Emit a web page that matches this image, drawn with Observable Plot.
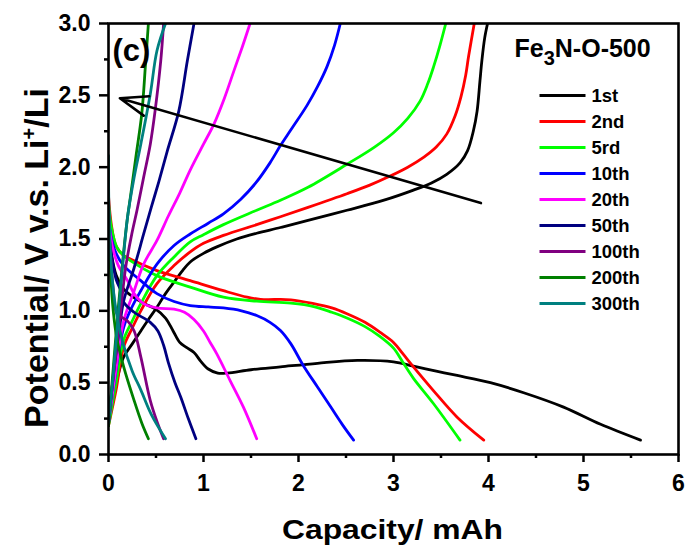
<!DOCTYPE html>
<html><head><meta charset="utf-8">
<script src="https://cdn.jsdelivr.net/npm/d3@7"></script>
<script src="https://cdn.jsdelivr.net/npm/@observablehq/plot@0.6"></script>
<style>body{margin:0;background:#fff}</style>
</head><body><div id="chart"></div>
<script>
const cycles = ["1st","2nd","5rd","10th","20th","50th","100th","200th","300th"];
const colors = ["#000000","#ff0000","#00ff00","#0000ff","#ff00ff","#000080","#800080","#008000","#008080"];

const dis1st = [[0,1.62],[0.03,1.4],[0.08,1.25],[0.15,1.16],[0.25,1.1],[0.38,1.05],[0.5,1.01],[0.6,0.95],[0.68,0.86],[0.75,0.78],[0.82,0.745],[0.9,0.71],[0.97,0.65],[1.05,0.595],[1.15,0.567],[1.25,0.567],[1.5,0.59],[1.81,0.61],[2.2,0.635],[2.62,0.655],[3.0,0.645],[3.21,0.615],[3.45,0.58],[3.67,0.55],[4.02,0.50],[4.37,0.43],[4.79,0.33],[5.18,0.21],[5.6,0.10]];
const chg1st = [[0,0.28],[0.05,0.42],[0.1,0.55],[0.16,0.68],[0.25,0.77],[0.34,0.86],[0.42,0.94],[0.51,1.025],[0.6,1.12],[0.69,1.2],[0.78,1.28],[0.86,1.34],[1.0,1.4],[1.14,1.445],[1.35,1.5],[1.56,1.54],[1.81,1.58],[2.1,1.63],[2.51,1.70],[2.9,1.77],[3.21,1.84],[3.4,1.89],[3.56,1.95],[3.7,2.03],[3.78,2.115],[3.84,2.25],[3.88,2.39],[3.91,2.6],[3.93,2.74],[3.96,2.9],[3.99,3.0]];
const dis2nd = [[0,1.8],[0.03,1.6],[0.08,1.45],[0.15,1.39],[0.23,1.36],[0.51,1.28],[0.86,1.21],[1.21,1.14],[1.46,1.095],[1.6,1.08],[1.92,1.077],[2.16,1.05],[2.35,1.02],[2.51,0.98],[2.7,0.92],[2.86,0.85],[3.0,0.78],[3.1,0.7],[3.21,0.61],[3.42,0.445],[3.67,0.26],[3.95,0.10]];
const chg2nd = [[0,0.2],[0.08,0.45],[0.16,0.75],[0.25,0.88],[0.34,1.0],[0.51,1.19],[0.69,1.315],[0.86,1.41],[1.0,1.47],[1.21,1.525],[1.56,1.6],[1.81,1.655],[2.1,1.72],[2.51,1.815],[2.75,1.875],[2.97,1.94],[3.15,2.0],[3.32,2.07],[3.45,2.14],[3.56,2.23],[3.65,2.36],[3.71,2.49],[3.76,2.64],[3.79,2.77],[3.85,3.0]];
const dis5rd = [[0,1.75],[0.03,1.58],[0.09,1.44],[0.16,1.385],[0.23,1.35],[0.51,1.245],[0.86,1.165],[1.21,1.095],[1.56,1.067],[1.92,1.053],[2.16,1.03],[2.35,0.99],[2.51,0.95],[2.7,0.89],[2.86,0.82],[3.0,0.74],[3.1,0.64],[3.21,0.53],[3.42,0.355],[3.7,0.10]];
const chg5rd = [[0,0.2],[0.08,0.5],[0.16,0.80],[0.25,0.93],[0.34,1.05],[0.51,1.245],[0.69,1.375],[0.86,1.48],[1.0,1.53],[1.21,1.6],[1.56,1.7],[1.81,1.77],[2.1,1.86],[2.51,2.02],[2.8,2.14],[3.0,2.24],[3.15,2.34],[3.28,2.46],[3.36,2.58],[3.42,2.695],[3.49,2.85],[3.55,3.0]];
const dis10th = [[0,1.72],[0.02,1.54],[0.08,1.4],[0.16,1.315],[0.34,1.21],[0.51,1.12],[0.69,1.065],[0.86,1.037],[1.05,1.027],[1.21,1.02],[1.4,1.0],[1.56,0.967],[1.7,0.92],[1.81,0.863],[1.92,0.77],[2.05,0.62],[2.2,0.47],[2.34,0.33],[2.46,0.21],[2.58,0.10]];
const chg10th = [[0,0.22],[0.06,0.5],[0.16,0.885],[0.25,1.03],[0.34,1.14],[0.51,1.325],[0.69,1.455],[0.86,1.535],[1.05,1.61],[1.21,1.675],[1.39,1.775],[1.55,1.89],[1.7,2.03],[1.81,2.15],[1.92,2.26],[2.09,2.43],[2.2,2.56],[2.30,2.7],[2.38,2.85],[2.44,3.0]];
const dis20th = [[0,1.62],[0.04,1.45],[0.1,1.32],[0.2,1.21],[0.27,1.12],[0.37,1.05],[0.51,1.02],[0.69,1.012],[0.8,0.99],[0.9,0.94],[1.0,0.86],[1.07,0.78],[1.14,0.70],[1.28,0.515],[1.42,0.33],[1.56,0.11]];
const chg20th = [[0,0.22],[0.08,0.6],[0.16,0.93],[0.27,1.14],[0.37,1.325],[0.51,1.49],[0.63,1.66],[0.75,1.82],[0.86,1.98],[1.0,2.16],[1.11,2.30],[1.22,2.48],[1.32,2.67],[1.41,2.84],[1.49,3.0]];
const dis50th = [[0,1.55],[0.04,1.35],[0.08,1.22],[0.13,1.14],[0.16,1.06],[0.27,0.99],[0.44,0.92],[0.52,0.86],[0.58,0.76],[0.63,0.64],[0.7,0.5],[0.76,0.40],[0.84,0.25],[0.92,0.11]];
const chg50th = [[0,0.22],[0.06,0.6],[0.12,0.9],[0.16,1.07],[0.27,1.30],[0.37,1.535],[0.45,1.72],[0.53,1.9],[0.62,2.115],[0.74,2.39],[0.83,2.74],[0.90,3.0]];
const dis100th = [[0,1.7],[0.02,1.4],[0.05,1.15],[0.09,0.98],[0.2,0.93],[0.27,0.86],[0.34,0.68],[0.44,0.375],[0.51,0.23],[0.58,0.11]];
const chg100th = [[0,0.22],[0.06,0.6],[0.12,0.95],[0.18,1.3],[0.25,1.55],[0.30,1.70],[0.37,1.93],[0.44,2.16],[0.49,2.39],[0.55,2.74],[0.58,3.0]];
const dis200th = [[0,1.72],[0.02,1.3],[0.05,1.0],[0.09,0.8],[0.16,0.61],[0.27,0.375],[0.35,0.22],[0.42,0.11]];
const chg200th = [[0,0.2],[0.05,0.6],[0.1,1.0],[0.15,1.35],[0.2,1.65],[0.23,1.79],[0.29,2.08],[0.35,2.37],[0.39,2.72],[0.42,3.0]];
const dis300th = [[0,2.08],[0.005,1.7],[0.03,1.3],[0.08,1.0],[0.15,0.78],[0.25,0.58],[0.34,0.45],[0.45,0.28],[0.6,0.11]];
const chg300th = [[0,0.22],[0.05,0.55],[0.1,0.95],[0.15,1.32],[0.20,1.65],[0.27,1.93],[0.34,2.16],[0.44,2.51],[0.51,2.81],[0.60,3.0]];

const xTicks = [0,1,2,3,4,5,6];
const xMinor = [0.5,1.5,2.5,3.5,4.5,5.5];
const yTicks = [0,0.5,1,1.5,2,2.5,3];
const yMinor = [0.25,0.75,1.25,1.75,2.25,2.75];
const arrowData = [{x1:3.92, y1:1.75, x2:0.12, y2:2.48}];
const panelLabel = "(c)";
const xTitle = "Capacity/ mAh";
const yTitle = "Potential/ V v.s. Li+/Li";
const legendTitle = "Fe3N-O-500";

const curves = [[dis1st,chg1st],[dis2nd,chg2nd],[dis5rd,chg5rd],[dis10th,chg10th],[dis20th,chg20th],[dis50th,chg50th],[dis100th,chg100th],[dis200th,chg200th],[dis300th,chg300th]];
const rows = cycles.flatMap((c,i) => curves[i].flatMap((pts,j) => pts.map(([x,y]) => ({cycle:c, key:c+"-"+j, x, y}))));

const legendLine = {draw(ctx){ ctx.moveTo(-23,0); ctx.lineTo(23,0); }};
const font = "'Liberation Sans', Arial, Helvetica, sans-serif";

const svg = Plot.plot({
  width: 685, height: 549,
  marginTop: 23, marginRight: 7, marginBottom: 95, marginLeft: 108,
  x: {domain: [0,6]},
  y: {domain: [0,3]},
  color: {domain: cycles, range: colors},
  style: {fontFamily: font, fontWeight: "bold", color: "black", background: "white", overflow: "visible"},
  marks: [
    Plot.line(rows, {x:"x", y:"y", z:"key", stroke:"cycle", strokeWidth:2.8, curve:"catmull-rom", clip:true}),
    Plot.arrow(arrowData, {x1:"x1", y1:"y1", x2:"x2", y2:"y2", stroke:"black", strokeWidth:2.6, headLength:17, headAngle:40}),
    Plot.axisX({ticks:xTicks, tickSize:8, tickPadding:12, fontSize:23, fontWeight:"bold", tickFormat:d=>String(d), label:null, strokeWidth:2.5}),
    Plot.axisX({ticks:xMinor, tickSize:4, tickFormat:()=>"", label:null, strokeWidth:2.5}),
    Plot.axisY({ticks:yTicks, tickSize:9, tickPadding:9, fontSize:23, fontWeight:"bold", tickFormat:d3.format(".1f"), label:null, strokeWidth:2.5}),
    Plot.axisY({ticks:yMinor, tickSize:4, tickFormat:()=>"", label:null, strokeWidth:2.5}),
    Plot.frame({stroke:"black", strokeWidth:2.6}),
    Plot.text([yTitle], {frameAnchor:"left", textAnchor:"middle", lineAnchor:"middle", rotate:-90, dx:-71, dy:19, fontSize:34, fontWeight:"bold", className:"ytitle"}),
    Plot.text([xTitle], {frameAnchor:"bottom", textAnchor:"middle", lineAnchor:"middle", dx:-1, dy:76, fontSize:28, fontWeight:"bold", className:"xtitle"}),
    Plot.text([panelLabel], {frameAnchor:"top-left", textAnchor:"start", lineAnchor:"middle", dx:4, dy:27.6, fontSize:31, fontWeight:"bold"}),
    Plot.text([legendTitle], {frameAnchor:"top-left", textAnchor:"start", lineAnchor:"middle", dx:406, dy:25.7, fontSize:25, fontWeight:"bold", className:"legtitle"}),
    ...cycles.map((c,i) => Plot.dot([c], {frameAnchor:"top-left", dx:454, dy:72+i*26, symbol:legendLine, r:5, stroke:d=>d, strokeWidth:3.2, fill:"none"})),
    ...cycles.map((c,i) => Plot.text([c], {frameAnchor:"top-left", textAnchor:"start", lineAnchor:"middle", dx:483, dy:72.7+i*26, fontSize:18.5, fontWeight:"bold"}))
  ]
});
document.getElementById("chart").appendChild(svg);

// superscript / subscript in titles
const yt = d3.select(svg).select("g.ytitle text");
yt.text(null);
yt.append("tspan").text("Potential/ V v.s. Li");
yt.append("tspan").attr("dy", -12).attr("font-size", 20).text("+");
yt.append("tspan").attr("dy", 12).text("/Li");
const lt = d3.select(svg).select("g.legtitle text");
lt.text(null);
lt.append("tspan").text("Fe");
lt.append("tspan").attr("dy", 8).attr("font-size", 20).text("3");
lt.append("tspan").attr("dy", -8).text("N-O-500");
d3.select(svg).select("g.xtitle text").attr("textLength", 221).attr("lengthAdjust", "spacingAndGlyphs");
</script>
</body></html>
